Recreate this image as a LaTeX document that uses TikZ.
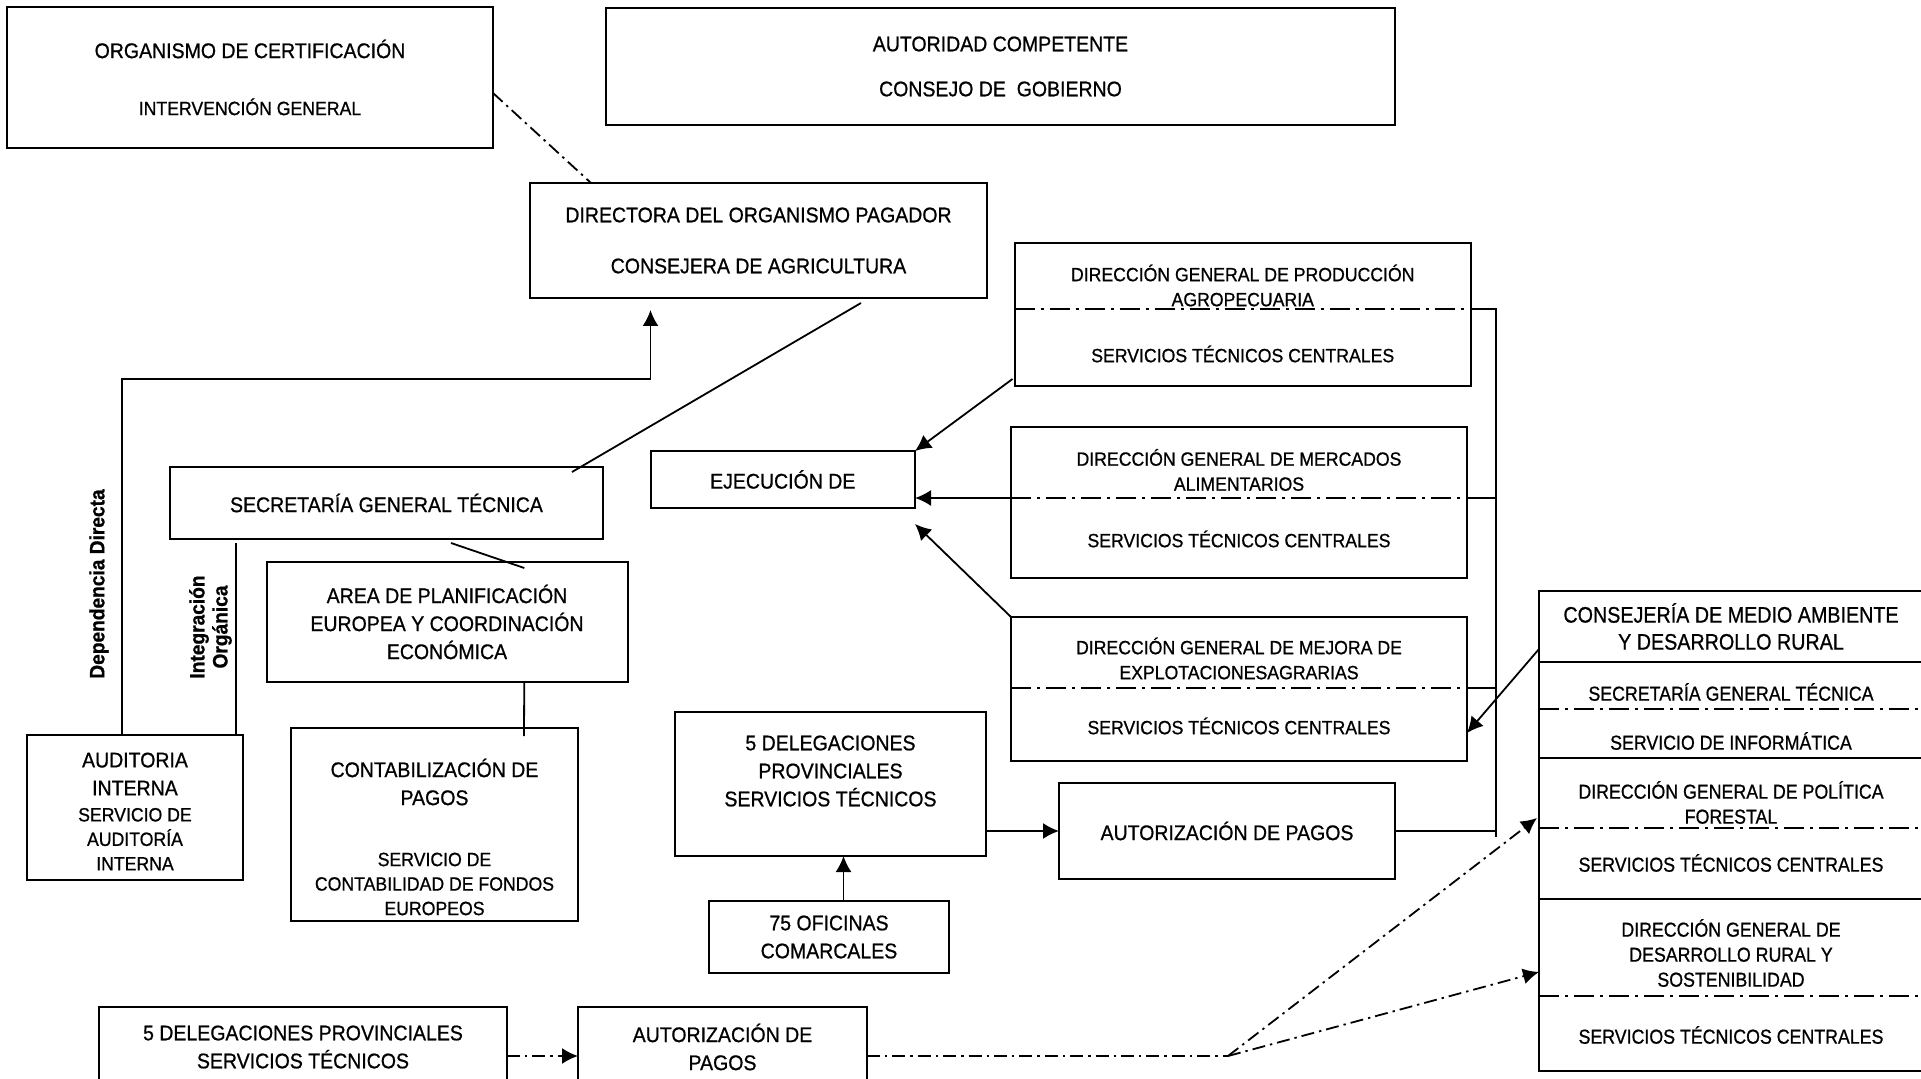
\documentclass[tikz,border=0pt]{standalone}
\usepackage{fontspec}
\setmainfont{Liberation Sans}[FakeStretch=0.92,FakeBold=0.8]
\newfontfamily\stackfont{Liberation Sans}[FakeStretch=0.88,FakeBold=0.8]
\usetikzlibrary{arrows.meta,positioning,calc}
\newcommand\bigf{\fontsize{10.6}{14}\selectfont}
\newcommand\smallf{\fontsize{9.6}{12.5}\selectfont}
\newcommand\vlabf{\fontsize{10.4}{11.5}\selectfont\bfseries}
\newcommand\stackbig{\stackfont\fontsize{11.2}{13.5}\selectfont}
\newcommand\stacksmall{\stackfont\fontsize{10.1}{12.5}\selectfont}
\begin{document}
\begin{tikzpicture}[x=0.5pt,y=-0.5pt,>={Latex[length=8pt,width=8pt]},line width=0.9pt,
 box/.style={draw,line width=1pt,outer sep=0pt,inner sep=2pt,align=center,font=\bigf,anchor=north west},
 txt/.style={align=center,font=\smallf,inner sep=0pt},
 stk/.style={align=center,font=\stacksmall,inner sep=0pt},
 dd/.style={dash pattern=on 6.5pt off 2.5pt on 1.2pt off 2.5pt},
 sep/.style={line width=1.1pt,dash pattern=on 10pt off 3pt on 1.5pt off 3pt}]
\useasboundingbox (0,0) rectangle (1921,1079);
\fill[white] (0,0) rectangle (1921,1079);
\node[box,minimum width=243pt,minimum height=70.5pt] (cert) at (7,7) {ORGANISMO DE CERTIFICACIÓN\\[14.5pt]\smallf INTERVENCIÓN GENERAL};
\node[box,minimum width=394.5pt,minimum height=58.5pt] (autor) at (606,8) {AUTORIDAD COMPETENTE\\[8.5pt]CONSEJO DE~ GOBIERNO};
\node[box,minimum width=228.5pt,minimum height=57.5pt] (dir) at (530,183) {DIRECTORA DEL ORGANISMO PAGADOR\\[11.5pt]CONSEJERA DE AGRICULTURA};
\node[box,minimum width=216.5pt,minimum height=36pt] (sgt) at (170,467) {SECRETARÍA GENERAL TÉCNICA};
\node[box,minimum width=180.5pt,minimum height=60pt] (area) at (266.5,562) {AREA DE PLANIFICACIÓN\\EUROPEA Y COORDINACIÓN\\ECONÓMICA};
\node[box,minimum width=108pt,minimum height=72.5pt] (audit) at (27,735) {};
\node[txt,font=\bigf] (auditT) at ($(audit.center)+(0,4)$) {AUDITORIA\\INTERNA\\[-1pt]\smallf SERVICIO DE\\[-1.75pt]\smallf AUDITORÍA\\[-1.75pt]\smallf INTERNA};
\node[box,minimum width=143.5pt,minimum height=96.5pt] (contab) at (291,728) {};
\node[txt,font=\bigf] (contabT) at ($(contab.center)+(0,12.5)$) {CONTABILIZACIÓN DE\\PAGOS\\[16.5pt]\smallf SERVICIO DE\\[-1.75pt]\smallf CONTABILIDAD DE FONDOS\\[-1.75pt]\smallf EUROPEOS};
\node[rotate=90,font=\vlabf] (depDir) at (99,584) {Dependencia Directa};
\node[rotate=90,font=\vlabf,align=center] (intOrg) at (210.5,627) {Integración\\Orgánica};
\node[box,minimum width=132.25pt,minimum height=28.5pt] (ejec) at (650.5,451) {EJECUCIÓN DE};
\node[box,minimum width=228.25pt,minimum height=71.5pt] (prod) at (1014.5,243) {};
\node[txt] (prodA) at ($(prod.north)+(0,42.5)$) {DIRECCIÓN GENERAL DE PRODUCCIÓN\\AGROPECUARIA};
\node[txt] (prodB) at ($(prod.north)+(0,111)$) {SERVICIOS TÉCNICOS CENTRALES};
\node[box,minimum width=228pt,minimum height=75.25pt] (merc) at (1011,427.5) {};
\node[txt] (mercA) at ($(merc.north)+(0,42.5)$) {DIRECCIÓN GENERAL DE MERCADOS\\ALIMENTARIOS};
\node[txt] (mercB) at ($(merc.north)+(0,111.5)$) {SERVICIOS TÉCNICOS CENTRALES};
\node[box,minimum width=228pt,minimum height=72pt] (mejora) at (1011,617) {};
\node[txt] (mejoraA) at ($(mejora.north)+(0,41.5)$) {DIRECCIÓN GENERAL DE MEJORA DE\\EXPLOTACIONESAGRARIAS};
\node[txt] (mejoraB) at ($(mejora.north)+(0,109)$) {SERVICIOS TÉCNICOS CENTRALES};
\node[box,minimum width=155.5pt,minimum height=72pt] (deleg) at (675,712) {};
\node[txt,font=\bigf] (delegT) at ($(deleg.center)+(0,-13)$) {5 DELEGACIONES\\PROVINCIALES\\SERVICIOS TÉCNICOS};
\node[box,minimum width=120pt,minimum height=36pt] (ofic) at (709,901) {75 OFICINAS\\COMARCALES};
\node[box,minimum width=168pt,minimum height=48pt] (autoriz) at (1059,783) {AUTORIZACIÓN DE PAGOS};
\node[box,minimum width=204pt,minimum height=40pt] (deleg2) at (99,1007) {5 DELEGACIONES PROVINCIALES\\SERVICIOS TÉCNICOS};
\node[box,minimum width=144.5pt,minimum height=40pt] (autoriz2) at (578,1007) {AUTORIZACIÓN DE\\PAGOS};
\node[box,font=\stackbig,minimum width=192pt,minimum height=35.5pt] (cma) at (1539,591) {CONSEJERÍA DE MEDIO AMBIENTE\\Y DESARROLLO RURAL};
\node[box,minimum width=192pt,minimum height=48pt,below=0pt of cma] (cmaSgt) {};
\node[box,minimum width=192pt,minimum height=70.5pt,below=0pt of cmaSgt] (cmaPf) {};
\node[box,minimum width=192pt,minimum height=86pt,below=0pt of cmaPf] (cmaDr) {};
\node[stk] (sgtR) at ($(cmaSgt.north)+(0,30)$) {SECRETARÍA GENERAL TÉCNICA};
\node[stk] (infR) at ($(cmaSgt.north)+(0,79)$) {SERVICIO DE INFORMÁTICA};
\node[stk] (pfR) at ($(cmaPf.north)+(0,44.5)$) {DIRECCIÓN GENERAL DE POLÍTICA\\FORESTAL};
\node[stk] (stcR1) at ($(cmaPf.north)+(0,105)$) {SERVICIOS TÉCNICOS CENTRALES};
\node[stk] (drR) at ($(cmaDr.north)+(0,54)$) {DIRECCIÓN GENERAL DE\\DESARROLLO RURAL Y\\SOSTENIBILIDAD};
\node[stk] (stcR2) at ($(cmaDr.north)+(0,136)$) {SERVICIOS TÉCNICOS CENTRALES};
\draw[sep] ($(cmaSgt.north west)+(0,47)$) -- ($(cmaSgt.north east)+(0,47)$);
\draw[sep] ($(cmaPf.north west)+(0,70)$) -- ($(cmaPf.north east)+(0,70)$);
\draw[sep] ($(cmaDr.north west)+(0,97)$) -- ($(cmaDr.north east)+(0,97)$);
\coordinate (prodS) at ($(prod.north west)+(0,66)$);
\coordinate (mercS) at ($(merc.north west)+(0,70.5)$);
\coordinate (mejoraS) at ($(mejora.north west)+(0,71)$);
\coordinate (busT) at (1496,309);
\coordinate (busB) at (1496,837);
\draw[sep] (prodS) -- (prodS -| prod.east);
\draw[sep] (mercS) -- (mercS -| merc.east);
\draw[sep] (mejoraS) -- (mejoraS -| mejora.east);
\draw (prodS -| prod.east) -- (busT) -- (busB);
\draw (mercS -| merc.east) -| (busT);
\draw (mejoraS -| mejora.east) -| (busT);
\draw (autoriz.east) -| (busB);
\draw[dd] ($(cert.east)+(0,15.5)$) -- ($(dir.north)+(-167.5,0)$);
\draw[->] ($(audit.north)+(-13,0)$) -- ++(0,-356) -| ($(dir.south)+(-108,12)$);
\draw ($(audit.north)+(101,0)$) -- ($(sgt.south)+(-150.5,4)$);
\draw ($(sgt.north)+(185.5,5)$) -- ($(dir.south)+(102.5,5)$);
\draw ($(sgt.south)+(64.5,4)$) -- ($(area.north)+(77.25,6)$);
\draw ($(area.south)+(77.25,0)$) -- ($(contab.north)+(89.5,8)$);
\draw[->] ($(prod.south west)+(-2,-7)$) -- (ejec.north east);
\draw[->] (mercS) -- (mercS -| ejec.east);
\draw[->] (mejora.north west) -- ($(ejec.south east)+(0,16)$);
\draw[->] ($(cma.south west)+(0,-13)$) -- ($(mejora.east)+(0,44)$);
\draw[->] (autoriz.west -| deleg.east) -- (autoriz.west);
\draw[->] ($(ofic.north)+(14.5,0)$) -- ($(deleg.south)+(13,0)$);
\coordinate (fork) at (1228,1056);
\draw[dd,->] ($(deleg2.east)+(0,9)$) -- ($(autoriz2.west)+(0,9)$);
\draw[dd] ($(autoriz2.east)+(0,9)$) -- (fork);
\draw[dd,->] (fork) -- ($(cmaPf.west)+(-2,-10.5)$);
\draw[dd,->] (fork) -- ($(cmaDr.west)+(0,-13)$);
\end{tikzpicture}
\end{document}
